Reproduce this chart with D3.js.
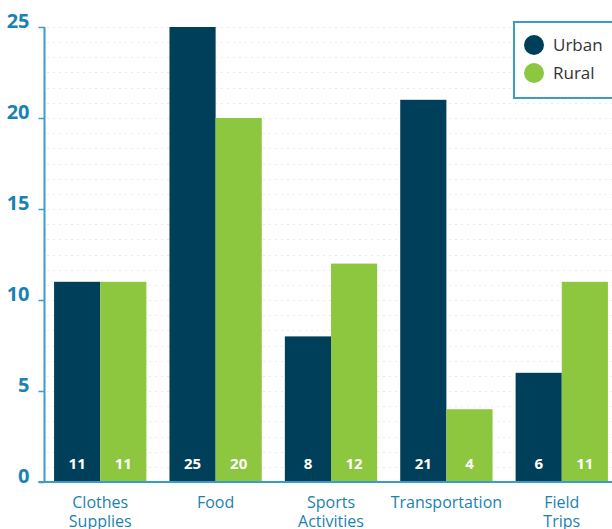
<!DOCTYPE html>
<html>
<head>
<meta charset="utf-8">
<script src="https://cdn.jsdelivr.net/npm/d3@7"></script>
<style>
  body { margin: 0; background: #fff; }
  svg { display: block; }
</style>
</head>
<body>
<svg id="chart" width="612" height="529"></svg>
<script>
// Data
const categories = [["Clothes", "Supplies"], ["Food"], ["Sports", "Activities"], ["Transportation"], ["Field", "Trips"]];
const seriesNames = ["Urban", "Rural"];
const urban = [11, 25, 8, 21, 6];
const rural = [11, 20, 12, 4, 11];
const yTicks = [0, 5, 10, 15, 20, 25];

const colors = { Urban: "#003f5a", Rural: "#8dc63f" };
const axisColor = "#3a9dc8";
const labelColor = "#1a82b0";

const svg = d3.select("#chart");
const plot = { left: 44.5, right: 612, top: 27, bottom: 482 };

const y = d3.scaleLinear().domain([0, 25]).range([plot.bottom, plot.top]);

const x = d3.scaleBand()
  .domain(d3.range(categories.length))
  .range([31, 631])
  .padding(0.2);

const xInner = d3.scaleBand()
  .domain(seriesNames)
  .range([0, x.bandwidth()]);

// Dotted gridlines (six per 5 units)
const gridVals = d3.range(0, 25.001, 5 / 6);
svg.append("g")
  .selectAll("line")
  .data(gridVals.slice(1))
  .enter()
  .append("line")
  .attr("x1", plot.left + 3)
  .attr("x2", plot.right)
  .attr("y1", (d) => Math.round(y(d)) + 0.5)
  .attr("y2", (d) => Math.round(y(d)) + 0.5)
  .attr("stroke", "#d4d4d4")
  .attr("stroke-width", 1)
  .attr("stroke-dasharray", "1,5");

// Bars
const rows = categories.map((c, i) => ({ i: i, Urban: urban[i], Rural: rural[i] }));

const groups = svg.append("g")
  .selectAll("g")
  .data(rows)
  .enter()
  .append("g")
  .attr("transform", (d) => "translate(" + x(d.i) + ",0)");

groups.selectAll("rect")
  .data((d) => seriesNames.map((s) => ({ key: s, value: d[s] })))
  .enter()
  .append("rect")
  .attr("x", (d) => xInner(d.key))
  .attr("y", (d) => y(d.value))
  .attr("width", xInner.bandwidth())
  .attr("height", (d) => y(0) - y(d.value))
  .attr("fill", (d) => colors[d.key]);

groups.selectAll("text")
  .data((d) => seriesNames.map((s) => ({ key: s, value: d[s] })))
  .enter()
  .append("text")
  .attr("x", (d) => xInner(d.key) + xInner.bandwidth() / 2)
  .attr("y", 469)
  .attr("text-anchor", "middle")
  .attr("fill", "#fff")
  .attr("font-family", "Open Sans, sans-serif")
  .attr("font-weight", "bold")
  .attr("font-size", "15px")
  .text((d) => d.value);

// Y axis
const yAxis = svg.append("g")
  .attr("transform", "translate(" + plot.left + ",0)")
  .call(d3.axisLeft(y).tickValues(yTicks).tickSize(6).tickPadding(9));
yAxis.select(".domain")
  .attr("d", "M0," + plot.top + "V" + plot.bottom)
  .attr("stroke", axisColor)
  .attr("stroke-width", 2);
yAxis.selectAll(".tick line").attr("stroke", axisColor).attr("stroke-width", 1.5);
yAxis.selectAll(".tick text")
  .attr("fill", labelColor)
  .attr("font-family", "Open Sans, sans-serif")
  .attr("font-weight", "bold")
  .attr("font-size", "20px")
  .attr("dy", "0em");

// X axis line
svg.append("line")
  .attr("x1", plot.left - 6)
  .attr("x2", plot.right)
  .attr("y1", plot.bottom)
  .attr("y2", plot.bottom)
  .attr("stroke", axisColor)
  .attr("stroke-width", 2);

// Category labels
const catText = svg.append("g")
  .selectAll("text")
  .data(categories)
  .enter()
  .append("text")
  .attr("x", (d, i) => x(i) + x.bandwidth() / 2)
  .attr("y", 508)
  .attr("text-anchor", "middle")
  .attr("fill", labelColor)
  .attr("font-family", "Open Sans, sans-serif")
  .attr("font-size", "16px");
catText.selectAll("tspan")
  .data((d) => d)
  .enter()
  .append("tspan")
  .attr("x", function () { return d3.select(this.parentNode).attr("x"); })
  .attr("dy", (d, i) => (i === 0 ? 0 : 19))
  .text((d) => d);

// Legend
const legend = svg.append("g").attr("transform", "translate(514,22)");
legend.append("rect")
  .attr("x", 0)
  .attr("y", 0)
  .attr("width", 110)
  .attr("height", 76)
  .attr("fill", "#fff")
  .attr("stroke", axisColor)
  .attr("stroke-width", 2);
seriesNames.forEach((s, i) => {
  legend.append("circle")
    .attr("cx", 20)
    .attr("cy", 23 + i * 28)
    .attr("r", 10)
    .attr("fill", colors[s]);
  legend.append("text")
    .attr("x", 39)
    .attr("y", 29 + i * 28)
    .attr("fill", "#333")
    .attr("font-family", "Open Sans, sans-serif")
    .attr("font-size", "17px")
    .text(s);
});
</script>
</body>
</html>
